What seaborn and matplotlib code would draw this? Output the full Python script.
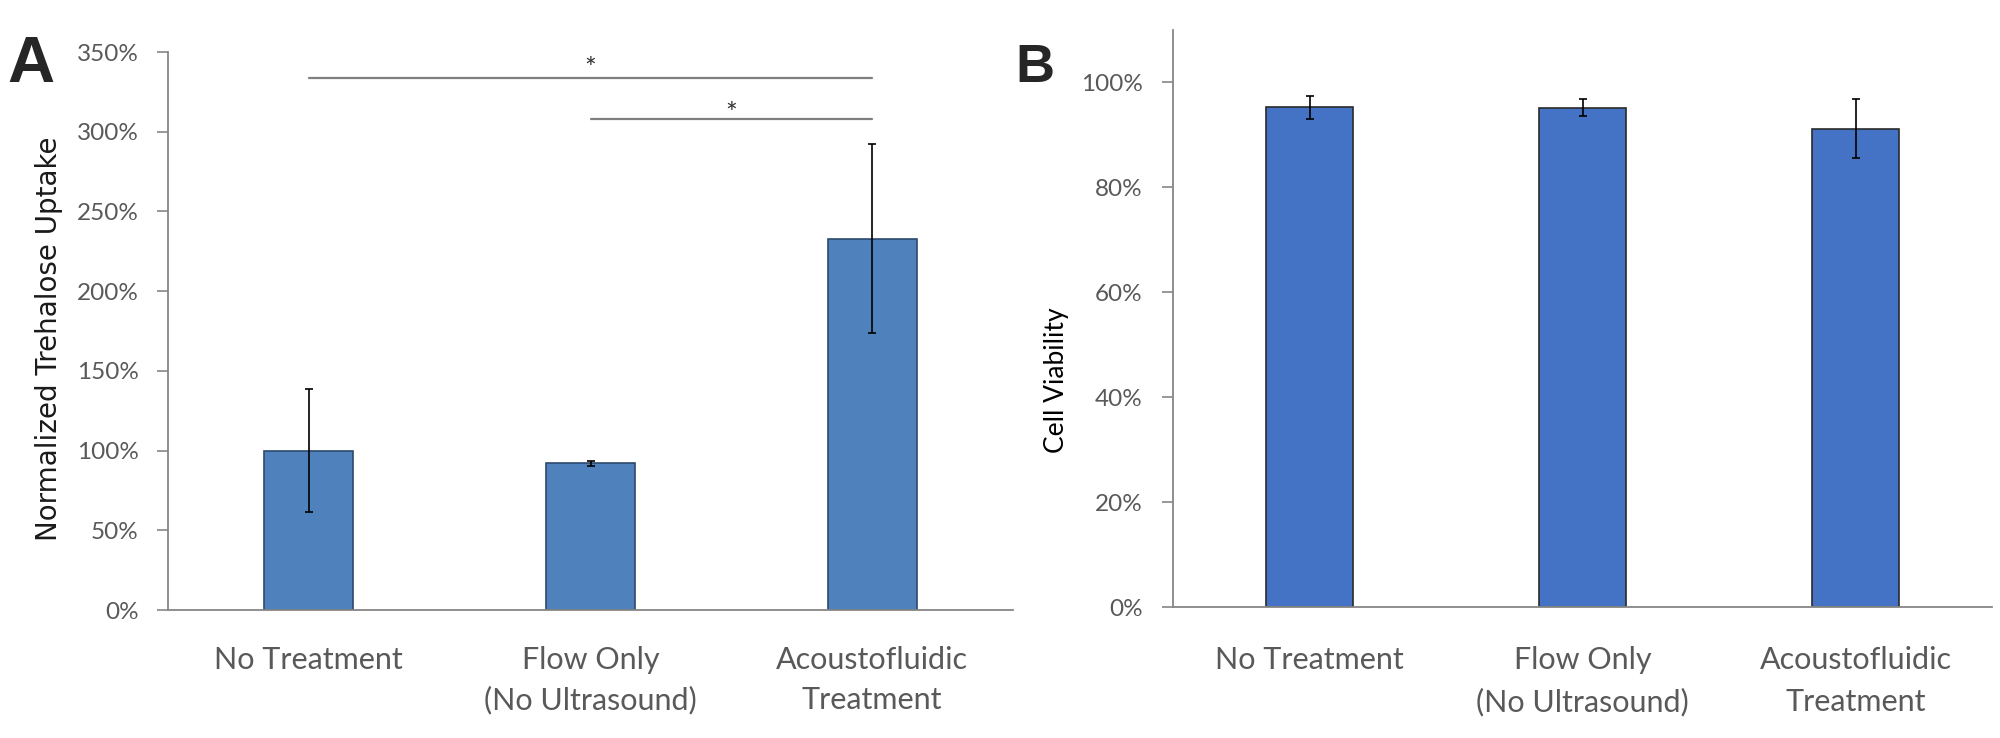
import pandas as pd
import seaborn as sns
import matplotlib.pyplot as plt
from matplotlib.ticker import PercentFormatter

# Data
groups = ["No Treatment", "Flow Only\n(No Ultrasound)", "Acoustofluidic\nTreatment"]
uptake_mean = [1.00, 0.92, 2.33]
uptake_err = [0.385, 0.015, 0.59]
viability_mean = [0.953, 0.952, 0.912]
viability_err = [0.022, 0.016, 0.056]

# significance brackets for panel A: (from, to, height, star height)
sig_pairs = [(0, 2, 3.34, 3.385), (1, 2, 3.08, 3.105)]

sns.set_style("white")
plt.rcParams['font.family'] = ['Lato', 'DejaVu Sans']

grey_axis = '#868686'
grey_text = '#595959'

df_a = pd.DataFrame({'group': groups, 'value': uptake_mean})
df_b = pd.DataFrame({'group': groups, 'value': viability_mean})

fig = plt.figure(figsize=(20, 7.38), dpi=100)
axA = fig.add_axes([0.084, 0.1734, 0.4225, 0.7561])
axB = fig.add_axes([0.5865, 0.1775, 0.4095, 0.7818])

# Panel A
sns.barplot(data=df_a, x='group', y='value', ax=axA, color='#4F81BD',
            width=0.316, errorbar=None, edgecolor='#2c4a6e', linewidth=1.2,
            saturation=1)
axA.errorbar(range(len(groups)), uptake_mean, yerr=uptake_err, fmt='none',
             ecolor='black', elinewidth=1.2, capsize=3, capthick=1.2)
axA.set_ylim(0, 3.5)
axA.set_xlim(-0.5, 2.5)
axA.set_yticks([0, 0.5, 1, 1.5, 2, 2.5, 3, 3.5])
axA.yaxis.set_major_formatter(PercentFormatter(xmax=1, decimals=0))
axA.set_xlabel('')
axA.set_ylabel('Normalized Trehalose Uptake', fontsize=20, color='#1a1a1a',
               family=['DejaVu Sans'])
axA.yaxis.set_label_coords(-0.124, 0.487)
axA.tick_params(axis='y', length=8, width=1.2, color=grey_axis, labelsize=17.5,
                labelcolor=grey_text, pad=13, left=True)
axA.tick_params(axis='x', length=0, labelsize=22, labelcolor=grey_text, pad=26)

for x0, x1, h, hs in sig_pairs:
    axA.plot([x0, x1], [h, h], color='#7f7f7f', lw=1.6, clip_on=False)
    axA.text((x0 + x1) / 2, hs, '*', ha='center', va='center', fontsize=20,
             color='#333333')

# Panel B
sns.barplot(data=df_b, x='group', y='value', ax=axB, color='#4472C4',
            width=0.318, errorbar=None, edgecolor='#2a2a2a', linewidth=1.2,
            saturation=1)
axB.errorbar(range(len(groups)), viability_mean, yerr=viability_err, fmt='none',
             ecolor='black', elinewidth=1.2, capsize=3, capthick=1.2)
axB.set_ylim(0, 1.1)
axB.set_xlim(-0.5, 2.5)
axB.set_yticks([0, 0.2, 0.4, 0.6, 0.8, 1.0])
axB.yaxis.set_major_formatter(PercentFormatter(xmax=1, decimals=0))
axB.set_xlabel('')
axB.set_ylabel('Cell Viability', fontsize=19, color='black')
axB.yaxis.set_label_coords(-0.127, 0.393)
axB.tick_params(axis='y', length=8, width=1.2, color=grey_axis, labelsize=17.5,
                labelcolor=grey_text, pad=14, left=True)
axB.tick_params(axis='x', length=0, labelsize=22, labelcolor=grey_text, pad=28)

for ax, ls in ((axA, 1.5), (axB, 1.6)):
    sns.despine(ax=ax)
    for side in ('left', 'bottom'):
        ax.spines[side].set_color(grey_axis)
        ax.spines[side].set_linewidth(1.3)
    for lab in ax.get_xticklabels():
        lab.set_linespacing(ls)

fig.text(0.0035, 0.889, 'A', fontsize=47, fontweight='bold',
         family=['Liberation Sans', 'DejaVu Sans'], va='baseline')
fig.text(0.5075, 0.889, 'B', fontsize=39, fontweight='bold',
         family=['Liberation Sans', 'DejaVu Sans'], va='baseline')

fig.savefig('out.png', dpi=100)
